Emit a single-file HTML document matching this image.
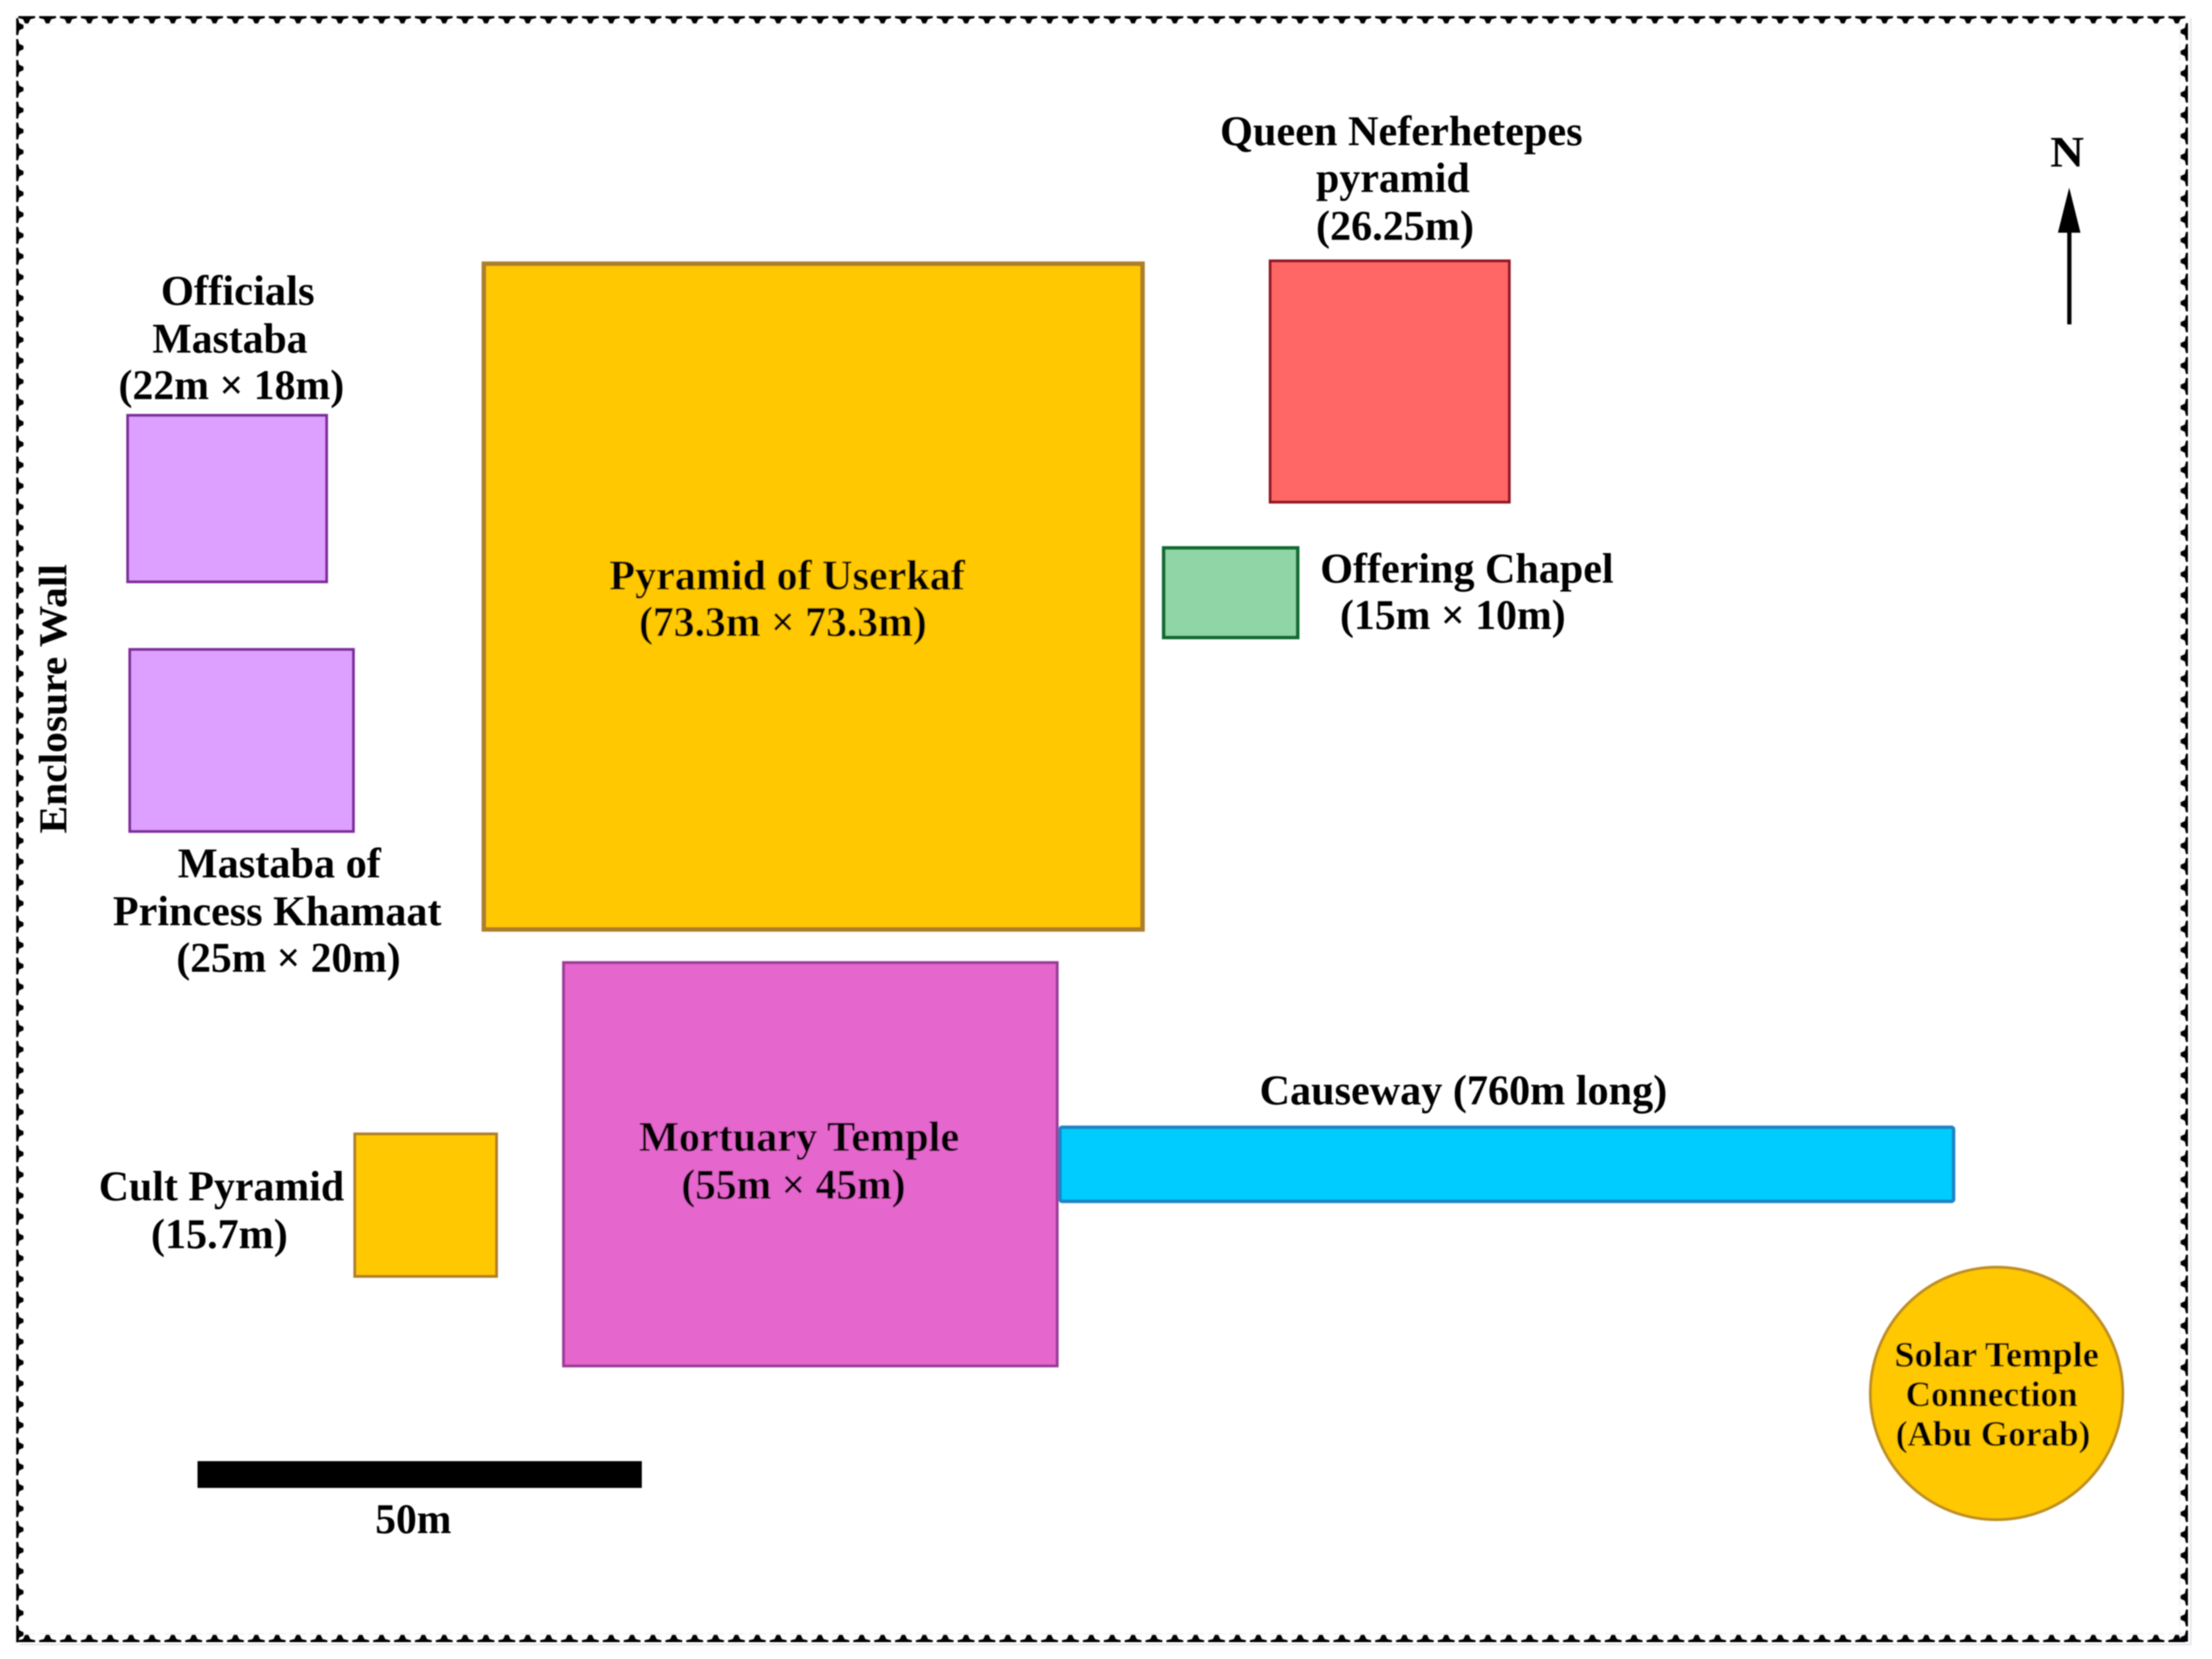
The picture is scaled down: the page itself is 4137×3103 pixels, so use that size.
<!DOCTYPE html>
<html><head><meta charset="utf-8"><style>
html,body{margin:0;padding:0;background:#fff;width:4137px;height:3103px;overflow:hidden}
svg{display:block}
text{font-family:"Liberation Serif",serif;font-weight:bold;fill:#050505;font-size:30px}
.s{font-size:25.2px}
</style></head><body>
<svg width="4137" height="3103" viewBox="0 0 1568.2 1176.3" xmlns="http://www.w3.org/2000/svg">
<defs>
<pattern id="h" x="0" y="0" width="14.8" height="6" patternUnits="userSpaceOnUse">
<polygon points="0.4,0 12.4,0 12.4,1.4 9,2.2 7.6,5.2 5.2,5.2 3.8,2.2 0.4,1.4" fill="#000"/>
</pattern>
<filter id="b" filterUnits="userSpaceOnUse" x="0" y="0" width="1568.2" height="1176.3"><feGaussianBlur stdDeviation="0.45"/></filter>
</defs>
<rect width="1568.2" height="1176.3" fill="#fff"/>
<g filter="url(#b)">
<path d="M1553.2 13V1166H14" fill="none" stroke="#e6e6ec" stroke-width="1.2"/>
<rect x="11.4" y="11.4" width="1539.8" height="2" fill="url(#h)" transform="translate(0 0)" opacity="0"/>
<g transform="translate(12.5 11.4)"><rect width="1538.7" height="6" fill="url(#h)"/></g>
<g transform="matrix(1 0 0 -1 12.5 1164.4)"><rect width="1538.7" height="6" fill="url(#h)"/></g>
<g transform="matrix(0 1 1 0 11.4 12.5)"><rect width="1152" height="6" fill="url(#h)"/></g>
<g transform="matrix(0 1 -1 0 1551.2 16)"><rect width="1148" height="6" fill="url(#h)"/></g>
<rect x="343" y="187" width="467" height="472" fill="#FFC800" stroke="#AD7F2A" stroke-width="3.200"/>
<rect x="900.5" y="185" width="169.5" height="171" fill="#FF6666" stroke="#8E1420" stroke-width="2"/>
<rect x="825" y="388.500" width="95" height="63.500" fill="#90D5A5" stroke="#0F6B30" stroke-width="2.500"/>
<rect x="90.500" y="294.500" width="141" height="118" fill="#DDA0FF" stroke="#7E2A9C" stroke-width="2"/>
<rect x="92" y="460.500" width="158.500" height="129" fill="#DDA0FF" stroke="#7E2A9C" stroke-width="2"/>
<rect x="399.500" y="682.500" width="350" height="286" fill="#E566CC" stroke="#9A3A98" stroke-width="2"/>
<rect x="251.500" y="804" width="100.500" height="101" fill="#FFC800" stroke="#AD7F2A" stroke-width="2"/>
<rect x="751.500" y="799.300" width="633.500" height="52.500" rx="1.500" fill="#00CCFF" stroke="#1E85C5" stroke-width="2.500"/>
<circle cx="1415.500" cy="988" r="89.500" fill="#FFC800" stroke="#BE8F20" stroke-width="2"/>
<rect x="140" y="1036" width="315" height="19" fill="#000"/>
<rect x="1465.600" y="164" width="3" height="66" fill="#000"/>
<polygon points="1467,133 1475,165 1459,165" fill="#000"/>
<text x="1453.500" y="118" style="font-size:31px" textLength="24" lengthAdjust="spacingAndGlyphs">N</text>
<text x="865" y="103" textLength="257" lengthAdjust="spacingAndGlyphs">Queen Neferhetepes</text>
<text x="933" y="136" textLength="109" lengthAdjust="spacingAndGlyphs">pyramid</text>
<text x="933" y="170" textLength="112" lengthAdjust="spacingAndGlyphs">(26.25m)</text>
<text x="114" y="216" textLength="109" lengthAdjust="spacingAndGlyphs">Officials</text>
<text x="108" y="250" textLength="110" lengthAdjust="spacingAndGlyphs">Mastaba</text>
<text x="84" y="283" textLength="160" lengthAdjust="spacingAndGlyphs">(22m × 18m)</text>
<text x="432" y="418" textLength="252" lengthAdjust="spacingAndGlyphs">Pyramid of Userkaf</text>
<text x="453" y="451" textLength="204" lengthAdjust="spacingAndGlyphs">(73.3m × 73.3m)</text>
<text x="936" y="413" textLength="208" lengthAdjust="spacingAndGlyphs">Offering Chapel</text>
<text x="950" y="446" textLength="160" lengthAdjust="spacingAndGlyphs">(15m × 10m)</text>
<text x="126" y="622" textLength="144" lengthAdjust="spacingAndGlyphs">Mastaba of</text>
<text x="80" y="656" textLength="233" lengthAdjust="spacingAndGlyphs">Princess Khamaat</text>
<text x="125" y="689" textLength="159" lengthAdjust="spacingAndGlyphs">(25m × 20m)</text>
<text x="893" y="783" textLength="289" lengthAdjust="spacingAndGlyphs">Causeway (760m long)</text>
<text x="453" y="816" textLength="227" lengthAdjust="spacingAndGlyphs">Mortuary Temple</text>
<text x="483" y="850" textLength="159" lengthAdjust="spacingAndGlyphs">(55m × 45m)</text>
<text x="70" y="851" textLength="174" lengthAdjust="spacingAndGlyphs">Cult Pyramid</text>
<text x="107" y="885" textLength="97" lengthAdjust="spacingAndGlyphs">(15.7m)</text>
<text x="266" y="1087" textLength="54" lengthAdjust="spacingAndGlyphs">50m</text>
<text class="s" x="1343" y="969" textLength="145" lengthAdjust="spacingAndGlyphs">Solar Temple</text>
<text class="s" x="1351" y="997" textLength="122" lengthAdjust="spacingAndGlyphs">Connection</text>
<text class="s" x="1344" y="1025" textLength="138" lengthAdjust="spacingAndGlyphs">(Abu Gorab)</text>
<text transform="translate(47 591) rotate(-90)" style="font-size:28px" textLength="191" lengthAdjust="spacingAndGlyphs">Enclosure Wall</text>
</g>
</svg>
</body></html>
